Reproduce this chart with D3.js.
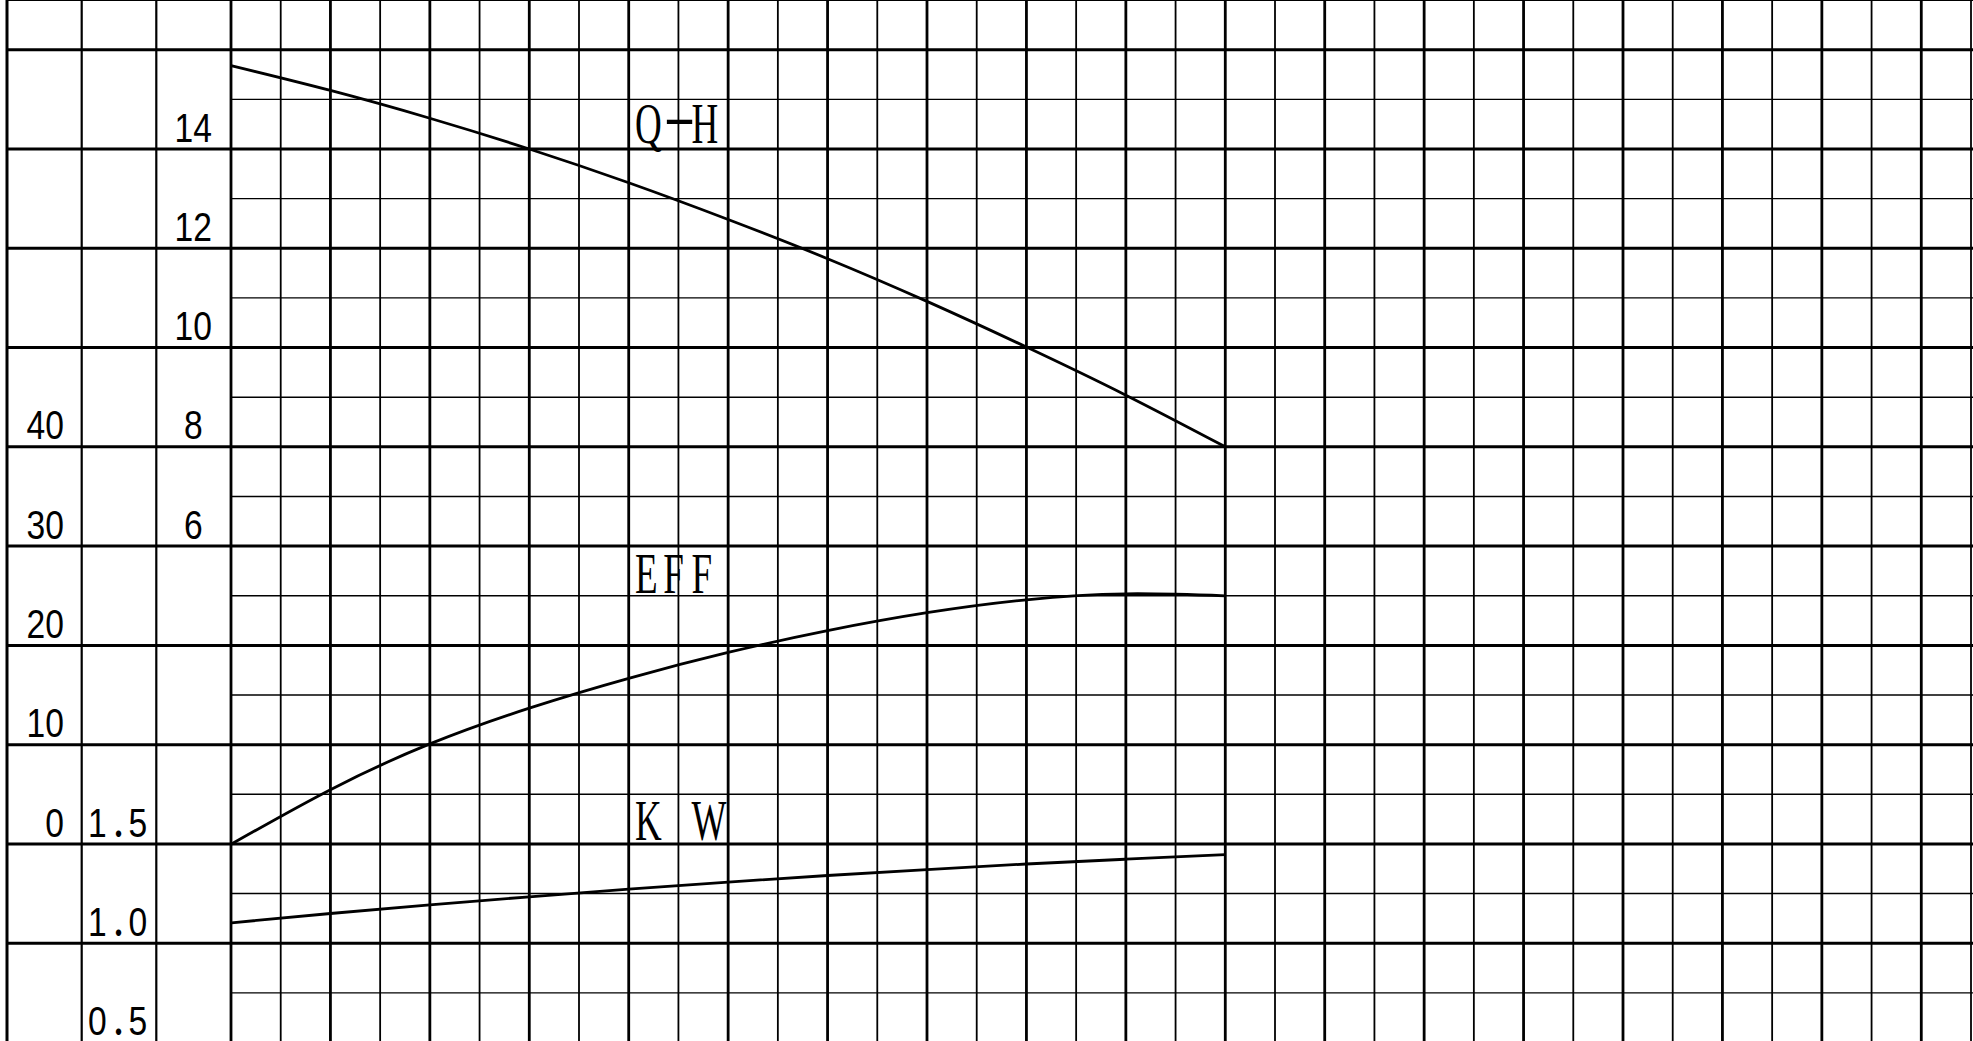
<!DOCTYPE html>
<html>
<head>
<meta charset="utf-8">
<script src="https://cdn.jsdelivr.net/npm/d3@7"></script>
<style>
  html, body { margin: 0; padding: 0; background: #fff; overflow: hidden; }
  svg { display: block; }
  .tick-label { font-family: "Liberation Sans", Arial, "Noto Sans CJK JP", sans-serif; font-size: 41px; fill: #000; }
  .curve-label { font-family: "Liberation Serif", "Times New Roman", serif; font-size: 57px; fill: #000; }
</style>
</head>
<body>
<svg id="chart"></svg>
<script>
// flow, in grid columns (no Q labels on the sheet)
const flowPoints = [0, 2, 4, 6, 8, 10, 12, 14, 16, 18, 20];
const headValues = [15.68, 15.18, 14.62, 14.0, 13.32, 12.58, 11.79, 10.93, 10.01, 9.04, 8.0];
const effValues = [0, 5.5, 10.1, 13.7, 16.7, 19.3, 21.5, 23.3, 24.6, 25.2, 25.0];
const kwValues = [1.105, 1.152, 1.195, 1.236, 1.275, 1.310, 1.343, 1.373, 1.401, 1.425, 1.448];

const effTicks = [40, 30, 20, 10, 0];
const headTicks = [14, 12, 10, 8, 6];
const kwTicks = [1.5, 1.0, 0.5];
const kwTickLabels = ["1．5", "1．0", "0．5"];
const curveNames = ["Q-H", "EFF", "K W"];

const width = 1973, height = 1041;

const svg = d3.select("#chart")
  .attr("width", width)
  .attr("height", height);

svg.append("rect").attr("width", width).attr("height", height).attr("fill", "#fff");

const x = d3.scaleLinear().domain([0, 35]).range([231, 1971]);
const yH = d3.scaleLinear().domain([6, 14]).range([546.1, 149]);
const yEff = d3.scaleLinear().domain([0, 40]).range([844.3, 446.7]);
const yKW = d3.scaleLinear().domain([1.0, 1.5]).range([943.7, 844.3]);

// left edges of the three scale columns
const scaleCols = [7, 81.7, 156.3];

const grid = svg.append("g").attr("stroke", "#000");

// horizontal lines, one per head unit
const rows = d3.range(17, -5, -1);
grid.selectAll(".hline")
  .data(rows)
  .enter()
  .append("line")
  .attr("class", "hline")
  .attr("x1", d => (d % 2 === 0 || d === 17) ? scaleCols[0] : x(0))
  .attr("x2", width)
  .attr("y1", d => yH(d))
  .attr("y2", d => yH(d))
  .attr("stroke-width", d => d === 17 ? 2 : (d % 2 === 0 ? 3 : 1.4));

// vertical lines of the plot area
grid.selectAll(".vline")
  .data(d3.range(0, 36))
  .enter()
  .append("line")
  .attr("class", "vline")
  .attr("x1", d => x(d))
  .attr("x2", d => x(d))
  .attr("y1", 0)
  .attr("y2", height)
  .attr("stroke-width", d => d % 2 === 0 ? 2.8 : 1.8);

// vertical lines of the scale columns
grid.selectAll(".cline")
  .data(scaleCols)
  .enter()
  .append("line")
  .attr("class", "cline")
  .attr("x1", d => d)
  .attr("x2", d => d)
  .attr("y1", 0)
  .attr("y2", height)
  .attr("stroke-width", (d, i) => i === 0 ? 3 : 2.2);

// curves
function curvePath(yScale, vals) {
  return d3.line()
    .x((d, i) => x(flowPoints[i]))
    .y(d => yScale(d))
    .curve(d3.curveNatural)(vals);
}

const curves = svg.append("g")
  .attr("fill", "none")
  .attr("stroke", "#000")
  .attr("stroke-width", 2.8);

curves.append("path").attr("d", curvePath(yH, headValues));
curves.append("path").attr("d", curvePath(yEff, effValues));
curves.append("path").attr("d", curvePath(yKW, kwValues));

// scale labels
const labels = svg.append("g");
const narrow = 0.82;

labels.selectAll(".eff-label")
  .data(effTicks)
  .enter()
  .append("text")
  .attr("class", "tick-label eff-label")
  .attr("text-anchor", "end")
  .attr("transform", d => `translate(64,${yEff(d) - 7.5}) scale(${narrow},1)`)
  .text(d => d);

labels.selectAll(".head-label")
  .data(headTicks)
  .enter()
  .append("text")
  .attr("class", "tick-label head-label")
  .attr("text-anchor", "middle")
  .attr("transform", d => `translate(193.3,${yH(d) - 7.5}) scale(${narrow},1)`)
  .text(d => d);

// kW labels: the full-width stop is pulled in so it sits like the sheet's "1. 5"
labels.selectAll(".kw-label")
  .data(kwTicks)
  .enter()
  .append("text")
  .attr("class", "tick-label kw-label")
  .attr("transform", d => `translate(88,${Math.min(yKW(d) - 7.5, 1034.5)}) scale(${narrow},1)`)
  .attr("dx", "0 4.6 -18.9")
  .text((d, i) => kwTickLabels[i]);

// curve names, set in narrow cells like the original sheet
const nameBaselines = [yH(14) - 5.7, yEff(25) - 2.5, yKW(1.5) - 4.3];
const cell = 28.2, squeeze = 0.65;

curveNames.forEach((name, k) => {
  const t = labels.append("text")
    .attr("class", "curve-label")
    .attr("transform", `translate(${x(8) + 6.3},${nameBaselines[k]}) scale(${squeeze},1)`);
  Array.from(name).forEach((c, i) => {
    const span = t.append("tspan")
      .attr("x", i * cell / squeeze)
      .attr("y", 0)
      .text(c);
    if (c === "-") {
      span.attr("y", -8)
        .attr("textLength", 50)
        .attr("lengthAdjust", "spacingAndGlyphs");
    }
  });
});
</script>
</body>
</html>
